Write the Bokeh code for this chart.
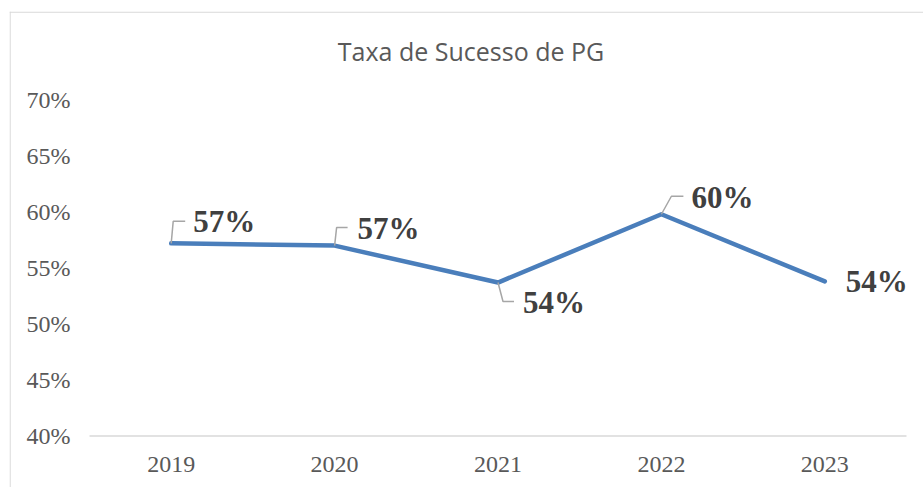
from bokeh.plotting import figure
from bokeh.models import Range1d, ColumnDataSource, Span
from bokeh.core.properties import value
from bokeh.embed import file_html
from bokeh.resources import INLINE

# ---- data ----
title_text = "Taxa de Sucesso de PG"
years = ["2019", "2020", "2021", "2022", "2023"]
rates = [0.572, 0.570, 0.537, 0.598, 0.538]
value_labels = ["57%", "57%", "54%", "60%", "54%"]
y_ticks = [0.40, 0.45, 0.50, 0.55, 0.60, 0.65, 0.70]
y_tick_labels = ["40%", "45%", "50%", "55%", "60%", "65%", "70%"]

# ---- label placement (pixel offsets, style only) ----
lab_dx = [22, 23, 25, 30, 21]
lab_dy = [21.5, 17, -19.5, 17, 0]          # up positive
lead_mid = [(2, 22), (2, 18), (5, -19), (10, 18), None]
lead_end = [(14, 22), (13, 18), (16, -19), (22, 18), None]

# ---- layout (canvas pixels) ----
W, H = 923, 487
FRAME_L, FRAME_T = 9, 11            # chart border
PLOT_L, PLOT_R = 89, 906            # category band area
Y_TOP_PX, Y_BOT_PX = 99.5, 435.5    # pixel rows of top / bottom ticks

n = len(years)
sx = (PLOT_R - PLOT_L) / n
sy = (Y_BOT_PX - Y_TOP_PX) / (y_ticks[-1] - y_ticks[0])
x_start = -0.5 - (PLOT_L - FRAME_L) / sx
x_end = x_start + (W - FRAME_L) / sx
y_end = y_ticks[-1] + (Y_TOP_PX - FRAME_T) / sy
y_start = y_ticks[0] - (H - Y_BOT_PX) / sy

x_idx = list(range(n))

p = figure(width=W, height=H, output_backend="svg", toolbar_location=None,
           x_range=Range1d(x_start, x_end), y_range=Range1d(y_start, y_end),
           min_border_left=FRAME_L, min_border_right=0,
           min_border_top=FRAME_T, min_border_bottom=0)
p.xaxis.visible = False
p.yaxis.visible = False
p.xgrid.grid_line_color = None
p.ygrid.grid_line_color = None
p.outline_line_color = None

# chart border (top and left edges; the rest runs off the picture)
p.add_layout(Span(location=x_start + 0.6 / sx, dimension="height", line_color="#d9d9d9", line_width=1.2))
p.add_layout(Span(location=y_end - 0.6 / sy, dimension="width", line_color="#d9d9d9", line_width=1.2))

# title
p.text(x=[(n - 1) / 2], y=[y_ticks[-1]], text=[title_text], x_offset=-27, y_offset=-49,
       text_font=value("Open Sans"), text_font_size="25px", text_color="#595959",
       text_align="center", text_baseline="middle")

# x axis line
p.segment(x0=[-0.5], x1=[n - 0.5], y0=[y_ticks[0]], y1=[y_ticks[0]],
          line_color="#d9d9d9", line_width=1.5)

# y tick labels
p.text(x=[-0.5] * len(y_ticks), y=y_ticks, text=y_tick_labels, x_offset=-19,
       text_font=value("Liberation Serif"), text_font_size="24px", text_color="#595959",
       text_align="right", text_baseline="middle")

# x tick labels
p.text(x=x_idx, y=[y_ticks[0]] * n, text=years, y_offset=28,
       text_font=value("Liberation Serif"), text_font_size="24px", text_color="#595959",
       text_align="center", text_baseline="middle")

# series line
p.line(x_idx, rates, line_color="#4a7ebb", line_width=4.5, line_cap="round", line_join="round")

# leader lines
xs, ys = [], []
for i, (r, m, e) in enumerate(zip(rates, lead_mid, lead_end)):
    if m is None:
        continue
    xs.append([i, i + m[0] / sx, i + e[0] / sx])
    ys.append([r, r + m[1] / sy, r + e[1] / sy])
p.multi_line(xs, ys, line_color="#a6a6a6", line_width=1.5)

# value labels
src = ColumnDataSource(dict(x=x_idx, y=rates, t=value_labels, dx=lab_dx, dy=[-d for d in lab_dy]))
p.text(x="x", y="y", text="t", x_offset="dx", y_offset="dy", source=src,
       text_font=value("Liberation Serif"), text_font_style="bold", text_font_size="31px",
       text_color="#404040", text_align="left", text_baseline="middle")

open("out.html", "w").write(file_html(p, INLINE))
